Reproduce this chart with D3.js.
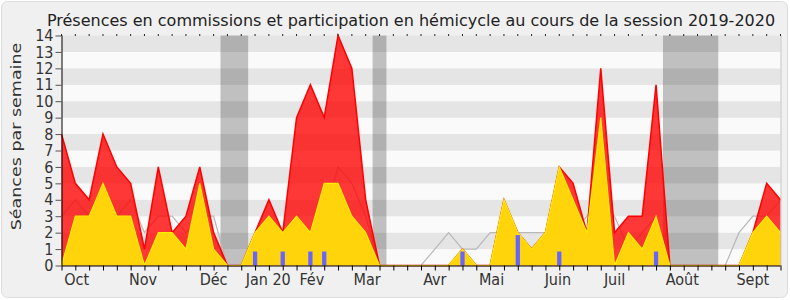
<!DOCTYPE html>
<html>
<head>
<meta charset="utf-8">
<script src="https://cdn.jsdelivr.net/npm/d3@7"></script>
<style>
  body { margin: 0; background: #ffffff; }
  svg { display: block; font-family: "DejaVu Sans Condensed", "DejaVu Sans", sans-serif; }
</style>
</head>
<body>
<svg id="chart" width="790" height="300"></svg>
<script>
// weeks of the session, oct 2019 -> sept 2020
const weeks = d3.range(53);
const presences = [8, 5, 4, 8, 6, 5, 1, 6, 2, 3, 6, 2, 0, 0, 2, 4, 2, 9, 11, 9, 14, 12, 4, 0, 0, 0, 0, 0, 0, 1,
  0, 0, 4, 2, 1, 2, 6, 5, 2, 12, 2, 3, 3, 11, 0, 0, 0, 0, 0, 0, 2, 5, 4];
const hemicycle = [0, 3, 3, 5, 3, 3, 0, 2, 2, 1, 5, 1, 0, 0, 2, 3, 2, 3, 2, 5, 5, 3, 2, 0, 0, 0, 0, 0, 0, 1,
  0, 0, 4, 2, 1, 2, 6, 4, 2, 9, 0, 2, 1, 3, 0, 0, 0, 0, 0, 0, 2, 3, 2];
const mediane = [3, 4, 3, 4, 3, 4, 2, 3, 3, 2, 3, 3, 0, 0, 2, 2, 2, 2, 2, 3, 6, 5, 3, 0, 0, 0, 0, 1, 2, 1,
  1, 2, 2, 2, 2, 2, 2, 2, 3, 4, 3, 1, 2, 3, 0, 0, 0, 0, 0, 2, 3, 3, 4];
const questionWeeks = [14, 16, 18, 19, 29, 33, 36, 43];
const questionValues = [0.85, 0.85, 0.85, 0.85, 0.85, 1.85, 0.85, 0.85];
const vacances = [[11.5, 13.5], [22.5, 23.5], [43.5, 47.5]];
const monthLabels = ["Oct", "Nov", "Déc", "Jan 20", "Fév", "Mar", "Avr", "Mai", "Juin", "Juil", "Août", "Sept"];
const monthWeeks = [1.1, 5.9, 11, 14.95, 18.1, 22.1, 27, 31.1, 35.9, 40, 44.9, 50];
const yTicks = d3.range(15);

const svg = d3.select("#chart");
const W = 790, H = 300;

const x = d3.scaleLinear().domain([0, 52]).range([61.5, 780.5]);
const y = d3.scaleLinear().domain([0, 14]).range([265.5, 35.5]);

// panel background
svg.append("rect")
  .attr("x", 1.5).attr("y", 1.5).attr("width", W - 4).attr("height", H - 4)
  .attr("rx", 6)
  .attr("fill", "#f0f0f0").attr("stroke", "#dddddd");

// stripes
svg.append("g").selectAll("rect")
  .data(d3.range(14))
  .join("rect")
  .attr("x", x(0)).attr("width", x(52) - x(0))
  .attr("y", d => y(d + 1)).attr("height", d => y(d) - y(d + 1))
  .attr("fill", d => d % 2 ? "#e5e5e5" : "#fafafa");

// vacation bands
svg.append("g").selectAll("rect")
  .data(vacances)
  .join("rect")
  .attr("x", d => x(d[0])).attr("width", d => x(d[1]) - x(d[0]))
  .attr("y", y(14)).attr("height", y(0) - y(14))
  .attr("fill", "rgba(0,0,0,0.23)");

// median line, under the areas
svg.append("path")
  .datum(weeks)
  .attr("fill", "none")
  .attr("stroke", "#b8b8b8")
  .attr("stroke-width", 1.2)
  .attr("d", d3.line().x(d => x(d)).y(d => y(mediane[d])));

const area = vals => d3.area().x(d => x(d)).y0(y(0)).y1(d => y(vals[d]));
const line = vals => d3.line().x(d => x(d)).y(d => y(vals[d]));

svg.append("path").datum(weeks)
  .attr("fill", "rgba(255,0,0,0.78)")
  .attr("d", area(presences));
svg.append("path").datum(weeks)
  .attr("fill", "none").attr("stroke", "#ff0000").attr("stroke-width", 1.5)
  .attr("d", line(presences));

svg.append("path").datum(weeks)
  .attr("fill", "#ffd40a")
  .attr("d", area(hemicycle));
svg.append("path").datum(weeks)
  .attr("fill", "none").attr("stroke", "#ffee00").attr("stroke-width", 1.2)
  .attr("d", line(hemicycle));

// questions
const bw = x(0.155) - x(0);
svg.append("g").selectAll("rect")
  .data(questionWeeks)
  .join("rect")
  .attr("x", d => x(d) - bw).attr("width", bw * 2)
  .attr("y", (d, i) => y(questionValues[i]))
  .attr("height", (d, i) => y(0) - y(questionValues[i]))
  .attr("fill", "#6666ff");

// right border of plot
svg.append("line")
  .attr("x1", x(52) + 0.5).attr("x2", x(52) + 0.5)
  .attr("y1", y(14)).attr("y2", y(0))
  .attr("stroke", "#c8c8c8");

// top small ticks
svg.append("g").selectAll("line")
  .data(weeks)
  .join("line")
  .attr("x1", d => x(d)).attr("x2", d => x(d))
  .attr("y1", y(14) - 1.5).attr("y2", y(14) + 0.5)
  .attr("stroke", "#222");

// x axis
const xAxis = svg.append("g")
  .attr("transform", `translate(0,${y(0)})`)
  .call(d3.axisBottom(x).tickValues(weeks).tickSize(5).tickFormat(""));
xAxis.select(".domain").attr("stroke", "#000").attr("d", `M${x(0)},0.5H${x(52)}`);
xAxis.selectAll(".tick line").attr("stroke", "#000");

svg.append("g").selectAll("text")
  .data(monthLabels)
  .join("text")
  .attr("x", (d, i) => x(monthWeeks[i]))
  .attr("y", 285)
  .attr("text-anchor", "middle")
  .attr("font-size", 16)
  .attr("fill", "#333")
  .text(d => d);

// y axis
const yAxis = svg.append("g")
  .attr("transform", `translate(${x(0)},0)`)
  .call(d3.axisLeft(y).tickValues(yTicks).tickSize(6).tickPadding(2).tickFormat(d3.format("d")));
yAxis.select(".domain").attr("stroke", "#000").attr("d", `M0.5,${y(14)}V${y(0)}`);
yAxis.selectAll(".tick line").attr("stroke", "#555");
yAxis.selectAll(".tick text")
  .attr("font-family", "DejaVu Sans Condensed, DejaVu Sans, sans-serif")
  .attr("font-size", 16).attr("fill", "#333");

svg.append("text")
  .attr("transform", `translate(21,${(y(0) + y(14)) / 2 - 14}) rotate(-90) scale(1,0.84)`)
  .attr("text-anchor", "middle")
  .attr("font-family", "DejaVu Sans, sans-serif")
  .attr("font-size", 17.5)
  .attr("fill", "#333")
  .text("Séances par semaine");

svg.append("text")
  .attr("x", 411).attr("y", 26)
  .attr("text-anchor", "middle")
  .attr("font-family", "DejaVu Sans, sans-serif")
  .attr("font-size", 16)
  .attr("fill", "#222")
  .text("Présences en commissions et participation en hémicycle au cours de la session 2019-2020");
</script>
</body>
</html>
